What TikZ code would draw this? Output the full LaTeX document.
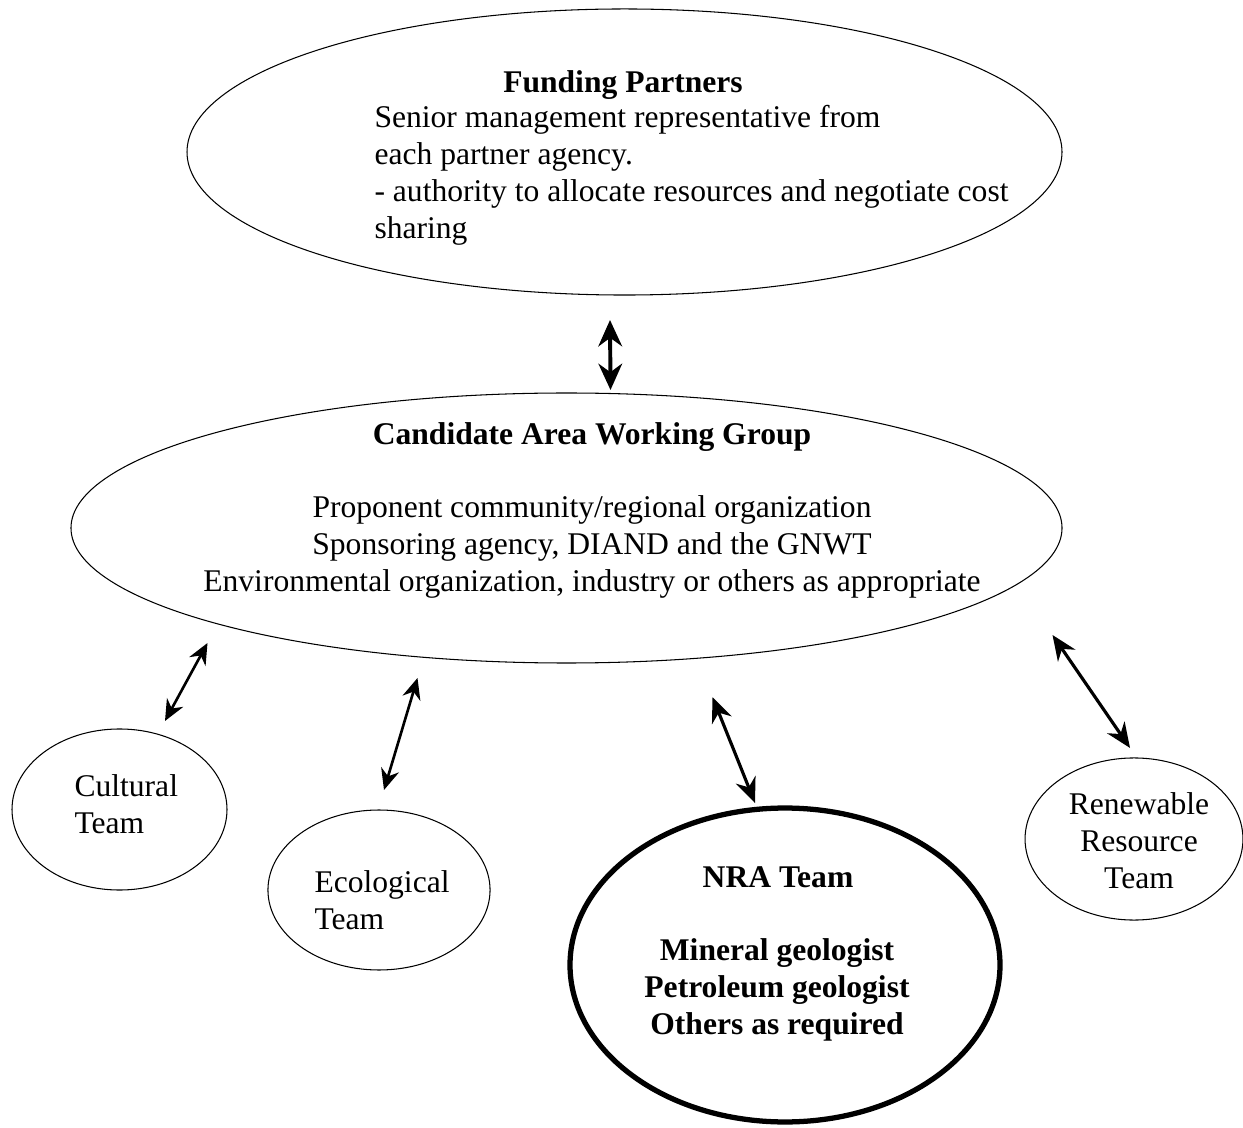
\documentclass[tikz,border=0pt]{standalone}
\usepackage{fontspec}
\setmainfont{Liberation Serif}
\usepackage{tikz}
\usetikzlibrary{%
  calc,%
  shapes.geometric,%
  arrows.meta%
}

\begin{document}
\begin{tikzpicture}[x=0.38pt,y=-0.38pt,
    bubble/.style={draw,ellipse,line width=.4pt,inner sep=0pt,outer sep=0pt},
    txt/.style={inner sep=0pt,anchor=base,font=\fontsize{12}{14.06}\selectfont},
    thinlink/.style={line width=1pt,{Stealth[length=8pt,width=7pt]}-{Stealth[length=8pt,width=7pt]}},
    midlink/.style={line width=1.2pt,{Stealth[length=9.5pt,width=8pt]}-{Stealth[length=9.5pt,width=8pt]}},
    biglink/.style={line width=1.5pt,{Stealth[length=10pt,width=9pt]}-{Stealth[length=10pt,width=9pt]}}]

    \useasboundingbox (0,0) rectangle (1243,1128);

    %% funding partners (base of a block = its last line)
    \node[bubble,minimum width=332.5pt,minimum height=108.7pt] (fund) at (624.5,152) {};
    \node[txt,font=\fontsize{12}{14.06}\selectfont\bfseries] (fundtitle) at (623,93) {Funding Partners};
    \node[txt,anchor=base west,align=left] (fundtext) at (374,239)
    {Senior management representative from\\
      each partner agency.\\
      - authority to allocate resources and negotiate cost\\
      sharing};

    %% working group
    \node[bubble,minimum width=376.6pt,minimum height=102.6pt] (cawg) at (566.5,528) {};
    \node[txt,font=\fontsize{12}{14.06}\selectfont\bfseries] (cawgtitle) at (592,445) {Candidate Area Working Group};
    \node[txt,align=center] (cawgtext) at (592,592)
    {Proponent community/regional organization\\
      Sponsoring agency, DIAND and the GNWT\\
      Environmental organization, industry or others as appropriate};

    %% teams
    \node[bubble,minimum width=81.7pt,minimum height=61.2pt] (cult) at (119.5,809.5) {};
    \node[txt,anchor=base west,align=left] (culttext) at (74,833) {Cultural\\Team};

    \node[bubble,minimum width=84.4pt,minimum height=60.8pt] (eco) at (379,890) {};
    \node[txt,anchor=base west,align=left] (ecotext) at (314,929) {Ecological\\Team};

    \node[bubble,line width=2pt,minimum width=163.4pt,minimum height=119.3pt] (nra) at (785,965) {};
    \node[txt,font=\fontsize{12}{14.06}\selectfont\bfseries] (nratitle) at (778,887) {NRA Team};
    \node[txt,align=center,font=\fontsize{12}{14.06}\selectfont\bfseries] (nratext) at (777,1034)
    {Mineral geologist\\
      Petroleum geologist\\
      Others as required};

    \node[bubble,minimum width=82.8pt,minimum height=61.6pt] (ren) at (1134,839) {};
    \node[txt,align=center] (rentext) at (1139,888) {Renewable\\Resource\\Team};

    %% links
    \draw[biglink] ($(fund.south)+(-14.5,25)$) -- ($(cawg.north)+(44,-3)$);
    \draw[thinlink] ($(cawg.south)+(-359,-20)$) -- ($(cult.north)+(45.5,-8)$);
    \draw[thinlink] ($(cawg.south)+(-149,15)$) -- ($(eco.north)+(5,-20)$);
    \draw[midlink] ($(cawg.south)+(146,34)$) -- ($(nra.north)+(-30,-5)$);
    \draw[midlink] ($(cawg.south)+(486,-28)$) -- ($(ren.north)+(-4,-10)$);

\end{tikzpicture}
\end{document}
